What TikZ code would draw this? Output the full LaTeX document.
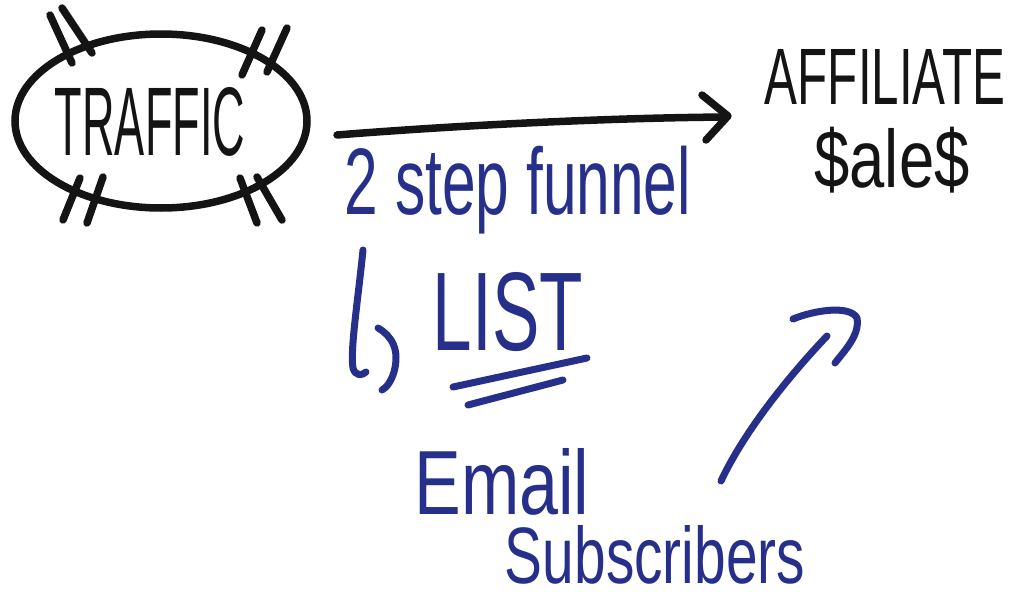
\documentclass[tikz,border=0pt]{standalone}
\usepackage{fontspec}
\setmainfont{Liberation Sans}
\usetikzlibrary{shapes.geometric}
\definecolor{ink}{RGB}{20,20,20}
\definecolor{pen}{RGB}{38,48,138}
\tikzset{
  blk/.style={draw=ink,line width=7.5pt,line cap=round,line join=round},
  blu/.style={draw=pen,line width=7pt,line cap=round,line join=round},
  lbl/.style={inner sep=0pt,outer sep=0pt},
}
\begin{document}
\begin{tikzpicture}[x=1pt,y=-1pt]
\useasboundingbox[fill=white] (0,0) rectangle (1013,605);
% traffic ellipse
\node[lbl,draw=ink,line width=7.5pt,ellipse,minimum width=292pt,minimum height=174pt] (ell) at (161,121) {};
\node[lbl,text=ink] (traffic) at (150,122) {\resizebox{190pt}{68pt}{TRAFFIC}};
% hash marks
\draw[blk] (50,15) -- (72,63);  \draw[blk] (62,8) -- (92,53);
\draw[blk] (262,30) -- (242,75); \draw[blk] (287,28) -- (267,72);
\draw[blk] (80,178) -- (63,220); \draw[blk] (103,177) -- (87,223);
\draw[blk] (240,178) -- (257,223); \draw[blk] (257,177) -- (282,220);
% right text
\node[lbl,text=ink] (aff) at (885,77) {\resizebox{240pt}{55pt}{AFFILIATE}};
\node[lbl,text=ink] (sale) at (892,160) {\resizebox*{155pt}{66pt}{\$ale\$}};
% main arrow
\coordinate (a0) at (337,135);
\coordinate (a1) at (726,117);
\draw[blk] (a0) .. controls (450,126) and (600,118) .. (a1);
\draw[blk] (702,95) -- (728,116) -- (706,140);
% blue texts
\node[lbl,text=pen] (funnel) at (518,190) {\resizebox*{346pt}{88pt}{2 step funnel}};
\node[lbl,text=pen] (list) at (508,312) {\resizebox{150pt}{78pt}{LIST}};
\node[lbl,text=pen] (email) at (502,482) {\resizebox{175pt}{66pt}{Email}};
\node[lbl,text=pen] (subs) at (655,555) {\resizebox{300pt}{58pt}{Subscribers}};
% hook arrow
\draw[blu] (363,250) .. controls (358,300) and (350,350) .. (353,368) .. controls (355,376) and (362,376) .. (366,372);
\draw[blu] (378,328) .. controls (392,336) and (400,350) .. (394,372) .. controls (391,382) and (386,388) .. (382,390);
% underlines
\draw[blu] (453,387) -- (587,358);
\draw[blu] (468,405) -- (563,380);
% rising arrow
\coordinate (r1) at (827,336);
\draw[blu] (721,481) .. controls (745,430) and (790,375) .. (r1);
\draw[blu] (793,319) .. controls (815,310) and (850,305) .. (857,318) .. controls (860,335) and (845,350) .. (835,363);
\end{tikzpicture}
\end{document}
